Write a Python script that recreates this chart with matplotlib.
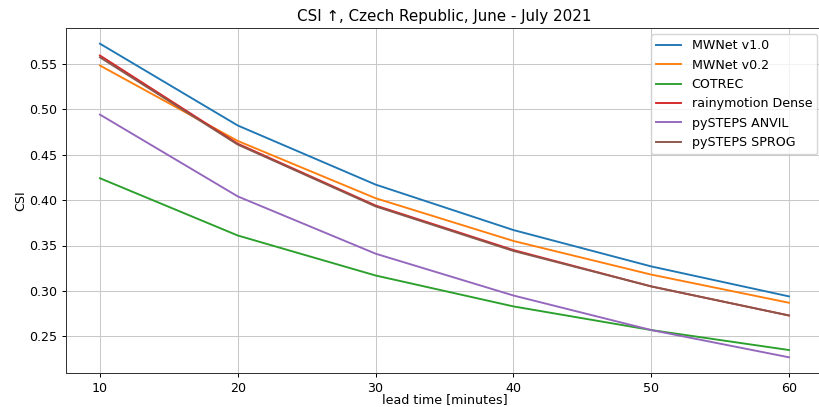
import matplotlib
matplotlib.use("Agg")
import matplotlib.pyplot as plt

lead_times = [10, 20, 30, 40, 50, 60]
mwnet_v10 = [0.572, 0.482, 0.417, 0.367, 0.327, 0.294]
mwnet_v02 = [0.548, 0.465, 0.402, 0.355, 0.318, 0.287]
cotrec = [0.424, 0.361, 0.317, 0.283, 0.257, 0.235]
rainymotion_dense = [0.559, 0.462, 0.394, 0.345, 0.305, 0.273]
pysteps_anvil = [0.494, 0.404, 0.341, 0.295, 0.257, 0.227]
pysteps_sprog = [0.557, 0.461, 0.393, 0.344, 0.305, 0.273]

series = [
    ("MWNet v1.0", mwnet_v10),
    ("MWNet v0.2", mwnet_v02),
    ("COTREC", cotrec),
    ("rainymotion Dense", rainymotion_dense),
    ("pySTEPS ANVIL", pysteps_anvil),
    ("pySTEPS SPROG", pysteps_sprog),
]

s = 0.91
plt.rcParams.update({
    "font.size": 10 * s,
    "axes.linewidth": 0.8 * s,
    "xtick.major.width": 0.8 * s,
    "ytick.major.width": 0.8 * s,
    "xtick.major.size": 3.5 * s,
    "ytick.major.size": 3.5 * s,
    "xtick.major.pad": 3.5 * s,
    "ytick.major.pad": 3.5 * s,
    "axes.edgecolor": "#333333",
})

fig = plt.figure(figsize=(8.19, 4.07), dpi=100)
ax = fig.add_axes([65.5 / 819, 1 - 373 / 407, 758 / 819, 345 / 407])
for name, vals in series:
    ax.plot(lead_times, vals, label=name, linewidth=1.5 * s)
ax.set_title("CSI ↑, Czech Republic, June - July 2021", fontsize=12 * s, pad=5)
ax.set_xlabel("lead time [minutes]", labelpad=-1)
ax.set_ylabel("CSI", labelpad=1)
ax.grid(True, color="#c8c8c8", linewidth=0.8 * s)
ax.legend(loc="upper right", fontsize=10 * s)
fig.savefig("out.png", dpi=100)
